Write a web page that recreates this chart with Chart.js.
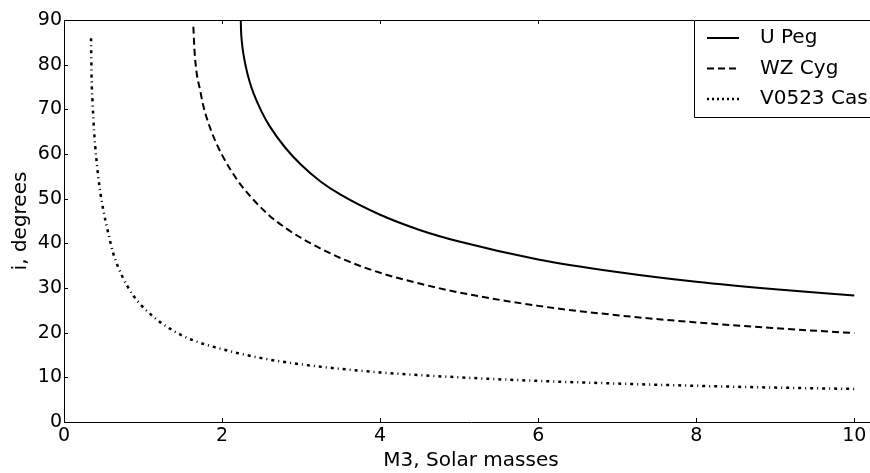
<!DOCTYPE html>
<html>
<head>
<meta charset="utf-8">
<script src="https://cdn.jsdelivr.net/npm/chart.js@4.4.1/dist/chart.umd.min.js"></script>
<style>
  html, body { margin: 0; padding: 0; background: #fff; overflow: hidden; }
  #wrap { width: 870px; height: 473px; overflow: hidden; }
</style>
</head>
<body>
<div id="wrap"><canvas id="chart" width="878" height="473"></canvas></div>
<script>
// values
const uPegX = [2.237, 2.24, 2.25, 2.27, 2.3, 2.35, 2.4, 2.5, 2.6, 2.8, 3.0, 3.25, 3.5, 4.0, 4.5, 5.0, 6.0, 7.0, 8.0, 9.0, 10.0];
const uPegY = [89.8, 87.7, 85.2, 82.4, 79.6, 76.1, 73.5, 69.5, 66.3, 61.4, 57.6, 53.8, 50.9, 46.4, 43.0, 40.4, 36.4, 33.6, 31.4, 29.7, 28.3];

const wzCygX = [1.637, 1.65, 1.68, 1.72, 1.76, 1.86, 2.0, 2.2, 2.4, 2.6, 2.8, 3.0, 3.5, 4.0, 4.5, 5.0, 6.0, 7.0, 8.0, 9.0, 10.0];
const wzCygY = [88.5, 83.5, 78.0, 74.5, 71.0, 65.3, 59.8, 54.0, 49.7, 46.2, 43.5, 41.2, 36.7, 33.4, 31.0, 29.0, 26.0, 23.9, 22.3, 21.0, 19.9];

const casX = [0.342, 0.35, 0.36, 0.38, 0.41, 0.45, 0.5, 0.56, 0.624, 0.73, 0.877, 1.09, 1.34, 1.59, 2.0, 2.5, 3.0, 4.0, 5.0, 6.0, 7.0, 8.0, 9.0, 10.0];
const casY = [85.9, 76.5, 72.0, 65.3, 58.8, 52.6, 47.2, 42.3, 37.7, 32.9, 28.3, 24.2, 20.9, 18.6, 16.3, 14.3, 12.9, 11.1, 10.0, 9.2, 8.6, 8.1, 7.7, 7.4];

const seriesNames = ['U Peg', 'WZ Cyg', 'V0523 Cas'];
const xTicks = [0, 2, 4, 6, 8, 10];
const yTicks = [0, 10, 20, 30, 40, 50, 60, 70, 80, 90];

function pts(xs, ys) {
    return xs.map((x, i) => ({ x: x, y: ys[i] }));
}

const FONT = "'DejaVu Sans', sans-serif";

// top spine, inward ticks and the legend box
const extras = {
    id: 'extras',
    afterDraw(chart) {
        const ctx = chart.ctx;
        const a = chart.chartArea;
        const xs = chart.scales.x, ys = chart.scales.y;
        ctx.save();
        ctx.strokeStyle = '#000';
        ctx.lineWidth = 1;
        ctx.beginPath();
        ctx.moveTo(a.left, a.top + 0.5);
        ctx.lineTo(a.right, a.top + 0.5);
        xTicks.forEach(v => {
            const px = Math.round(xs.getPixelForValue(v)) + 0.5;
            ctx.moveTo(px, a.bottom); ctx.lineTo(px, a.bottom - 4);
            ctx.moveTo(px, a.top); ctx.lineTo(px, a.top + 4);
        });
        yTicks.forEach(v => {
            const py = Math.round(ys.getPixelForValue(v)) + 0.5;
            ctx.moveTo(a.left, py); ctx.lineTo(a.left + 4, py);
        });
        ctx.stroke();

        // legend
        const lx = 694, ly = 20, lb = 117;
        ctx.fillStyle = '#fff';
        ctx.fillRect(lx, ly, chart.width - lx, lb - ly);
        ctx.beginPath();
        ctx.moveTo(chart.width, ly + 0.5);
        ctx.lineTo(lx + 0.5, ly + 0.5);
        ctx.lineTo(lx + 0.5, lb + 0.5);
        ctx.lineTo(chart.width, lb + 0.5);
        ctx.stroke();
        ctx.font = '20px ' + FONT;
        ctx.textBaseline = 'middle';
        ctx.textAlign = 'left';
        chart.data.datasets.forEach((ds, i) => {
            const y = 38 + i * 30.5;
            ctx.beginPath();
            ctx.setLineDash(i === 2 ? [2, 3] : ds.borderDash);
            ctx.lineWidth = ds.borderWidth;
            ctx.moveTo(707, y);
            ctx.lineTo(739, y);
            ctx.stroke();
            ctx.setLineDash([]);
            ctx.fillStyle = '#000';
            ctx.fillText(ds.label, 760, y);
        });
        ctx.restore();
    }
};

new Chart(document.getElementById('chart'), {
    type: 'scatter',
    data: {
        datasets: [
            { label: seriesNames[0], data: pts(uPegX, uPegY), borderColor: '#000', borderWidth: 2, borderDash: [] },
            { label: seriesNames[1], data: pts(wzCygX, wzCygY), borderColor: '#000', borderWidth: 2, borderDash: [7, 4] },
            { label: seriesNames[2], data: pts(casX, casY), borderColor: '#000', borderWidth: 2.5, borderDash: [3, 4, 1, 4] }
        ].map(d => Object.assign(d, {
            showLine: true, pointRadius: 0, fill: false, cubicInterpolationMode: 'monotone'
        }))
    },
    options: {
        responsive: false,
        animation: false,
        layout: { padding: { top: 20, right: 0, left: 0, bottom: 0 } },
        plugins: { legend: { display: false }, tooltip: { enabled: false } },
        scales: {
            x: {
                type: 'linear',
                min: 0,
                max: 10.30,
                afterBuildTicks: s => { s.ticks = xTicks.map(v => ({ value: v })); },
                afterFit: s => { s.height = 51; },
                grid: { drawOnChartArea: false, drawTicks: false },
                border: { display: true, color: '#000', width: 1 },
                ticks: { color: '#000', padding: 3, maxRotation: 0, font: { family: FONT, size: 19 } },
                title: { display: true, text: 'M3, Solar masses', color: '#000', padding: { top: 0, bottom: 0 }, font: { family: FONT, size: 20 } }
            },
            y: {
                min: 0,
                max: 90,
                afterBuildTicks: s => { s.ticks = yTicks.map(v => ({ value: v })); },
                afterFit: s => { s.width = 64; },
                grid: { drawOnChartArea: false, drawTicks: false },
                border: { display: true, color: '#000', width: 1 },
                ticks: { color: '#000', padding: 2, font: { family: FONT, size: 19 } },
                title: { display: true, text: 'i, degrees', color: '#000', padding: { top: 9, bottom: 0 }, font: { family: FONT, size: 20 } }
            }
        }
    },
    plugins: [extras]
});
</script>
</body>
</html>
